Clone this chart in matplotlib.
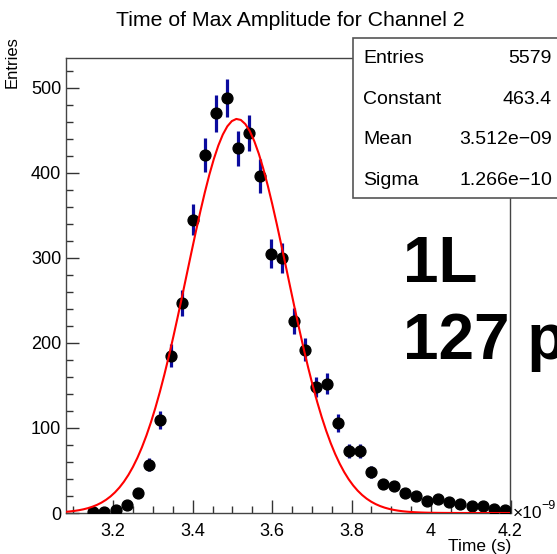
import numpy as np
import matplotlib.pyplot as plt
from matplotlib.patches import Rectangle
from matplotlib.ticker import MultipleLocator

plt.rcParams['font.family'] = ['Liberation Sans', 'DejaVu Sans']

# histogram: bin centres (x 1e-9 s) and counts
bin_centers = [3.150, 3.178, 3.206, 3.234, 3.262, 3.290, 3.318, 3.346, 3.374, 3.402,
               3.430, 3.458, 3.486, 3.514, 3.542, 3.570, 3.598, 3.626, 3.654, 3.682,
               3.710, 3.738, 3.766, 3.794, 3.822, 3.850, 3.878, 3.906, 3.934, 3.962,
               3.990, 4.018, 4.046, 4.074, 4.102, 4.130, 4.158, 4.186]
counts = [1, 1, 4, 9, 23, 57, 109, 185, 247, 345,
          421, 470, 488, 429, 447, 396, 305, 300, 226, 192,
          148, 152, 106, 73, 73, 48, 34, 32, 23, 20,
          14, 17, 13, 10, 8, 8, 5, 4]

# gaussian fit parameters from the stats box
fit_const = 463.4
fit_mean = 3.512
fit_sigma = 0.1266

stat_names = ['Entries', 'Constant', 'Mean', 'Sigma']
stat_values = ['5579', '463.4', '3.512e\u221209', '1.266e\u221210']

W, H = 557, 554
fig = plt.figure(figsize=(W / 100, H / 100), dpi=100)
L, R, T, B = 65.5, 510.5, 58, 513
ax = fig.add_axes([L / W, 1 - B / H, (R - L) / W, (B - T) / H])

x = np.array(bin_centers)
y = np.array(counts)
ax.errorbar(x, y, yerr=np.sqrt(y), fmt='none', ecolor='#0b0b9e', elinewidth=2.3, zorder=2)
ax.plot(x, y, 'o', color='black', markersize=7.8, zorder=3)

xf = np.linspace(3.08, 4.2, 100)
ax.plot(xf, fit_const * np.exp(-0.5 * ((xf - fit_mean) / fit_sigma) ** 2),
        color='#ff0000', lw=1.5, zorder=4)

ax.set_xlim(3.08, 4.2)
ax.set_ylim(0, 535)
ax.xaxis.set_major_locator(MultipleLocator(0.2))
ax.xaxis.set_minor_locator(MultipleLocator(0.05))
ax.yaxis.set_major_locator(MultipleLocator(100))
ax.yaxis.set_minor_locator(MultipleLocator(20))
ax.set_xticks([3.2, 3.4, 3.6, 3.8, 4.0, 4.2])
ax.set_xticklabels(['3.2', '3.4', '3.6', '3.8', '4', '4.2'])
ax.tick_params(which='both', direction='in', top=False, right=False,
               labelsize=13, color='#333333')
ax.tick_params(which='major', length=9.5, width=1)
ax.tick_params(which='minor', length=5, width=1)
ax.tick_params(axis='x', pad=7)
ax.tick_params(axis='y', pad=3)
for s in ax.spines.values():
    s.set_color('#444444')
    s.set_linewidth(1)

fig.text(290 / W, 1 - 20 / H, 'Time of Max Amplitude for Channel 2',
         ha='center', va='center', fontsize=15.3)
fig.text(511 / W, 1 - 546.5 / H, 'Time (s)', ha='right', va='center', fontsize=12.5)
fig.text(513 / W, 1 - 513 / H, '\u00d710', ha='left', va='center', fontsize=12.5)
fig.text(541 / W, 1 - 506 / H, '\u22129', ha='left', va='center', fontsize=9)
fig.text(12 / W, 1 - 36 / H, 'Entries', rotation=90, ha='center', va='top', fontsize=12)

# stats box
box = Rectangle((353 / W, 1 - 198 / H), 220 / W, 160 / H, transform=fig.transFigure,
                facecolor='white', edgecolor='#555555', lw=1.2, zorder=10)
fig.patches.append(box)
for i, (name, val) in enumerate(zip(stat_names, stat_values)):
    yy = 1 - (58.5 + 40.6 * i) / H
    fig.text(363 / W, yy, name, ha='left', va='center', fontsize=14, zorder=11)
    fig.text(552 / W, yy, val, ha='right', va='center', fontsize=14, zorder=11)

fig.text(403 / W, 1 - 282 / H, '1L', ha='left', va='baseline',
         fontsize=46, fontweight='bold')
fig.text(403 / W, 1 - 359 / H, '127 p', ha='left', va='baseline',
         fontsize=46, fontweight='bold')

fig.savefig('out.png', dpi=100)
